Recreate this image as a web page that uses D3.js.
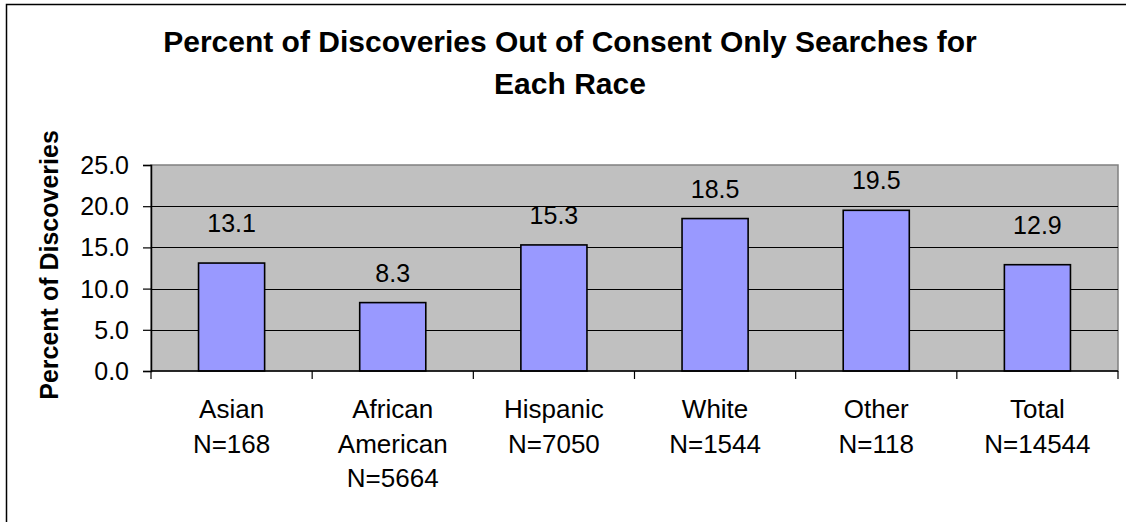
<!DOCTYPE html>
<html>
<head>
<meta charset="utf-8">
<script src="https://cdn.jsdelivr.net/npm/d3@7"></script>
<style>
  html, body { margin: 0; padding: 0; background: #fff; }
  svg { display: block; font-family: "Liberation Sans", Arial, sans-serif; }
</style>
</head>
<body>
<svg id="chart" width="1126" height="522"></svg>
<script>
const titleLines = ["Percent of Discoveries Out of Consent Only Searches for", "Each Race"];
const yAxisTitle = "Percent of Discoveries";
const categories = ["Asian", "African American", "Hispanic", "White", "Other", "Total"];
const categoryLines = [["Asian", "N=168"], ["African", "American", "N=5664"], ["Hispanic", "N=7050"], ["White", "N=1544"], ["Other", "N=118"], ["Total", "N=14544"]];
const values = [13.1, 8.3, 15.3, 18.5, 19.5, 12.9];
const yTicks = [0, 5, 10, 15, 20, 25];

const svg = d3.select("#chart");
const plot = { left: 151, right: 1118, top: 165, bottom: 371 };

// outer chart border (extends beyond the right/bottom of the picture)
svg.append("rect").attr("x", 6.5).attr("y", 4.5).attr("width", 1200).attr("height", 600)
  .attr("fill", "none").attr("stroke", "#000").attr("stroke-width", 1.5);

const x = d3.scaleBand().domain(categories).range([plot.left, plot.right]).padding(0);
const y = d3.scaleLinear().domain([0, 25]).range([plot.bottom, plot.top]);

// plot background
svg.append("rect").attr("x", plot.left).attr("y", plot.top)
  .attr("width", plot.right - plot.left).attr("height", plot.bottom - plot.top)
  .attr("fill", "#C0C0C0").attr("stroke", "#808080").attr("stroke-width", 1.5);

// gridlines
svg.append("g").selectAll("line").data(yTicks.filter(t => t > 0 && t < 25)).join("line")
  .attr("x1", plot.left).attr("x2", plot.right)
  .attr("y1", d => Math.round(y(d)) + 0.5).attr("y2", d => Math.round(y(d)) + 0.5)
  .attr("stroke", "#000").attr("stroke-width", 1.2);

// bars
const barFrac = 0.41;
svg.append("g").selectAll("rect").data(values).join("rect")
  .attr("x", (d, i) => x(categories[i]) + x.bandwidth() * (1 - barFrac) / 2)
  .attr("width", x.bandwidth() * barFrac)
  .attr("y", d => y(d))
  .attr("height", d => y(0) - y(d))
  .attr("fill", "#9999FF").attr("stroke", "#000").attr("stroke-width", 1.6);

// value labels (labels of bars sitting just under the 15 line are lifted clear of it)
svg.append("g").selectAll("text").data(values).join("text")
  .attr("x", (d, i) => x(categories[i]) + x.bandwidth() / 2)
  .attr("y", d => y(d) - ((d > 12 && d < 15) ? 31 : 21))
  .attr("text-anchor", "middle")
  .attr("font-size", 25).attr("fill", "#000")
  .text(d => d.toFixed(1));

// y axis
const yAxis = d3.axisLeft(y).tickValues(yTicks).tickSize(8).tickPadding(14).tickFormat(d3.format(".1f"));
const gy = svg.append("g").attr("transform", `translate(${plot.left},0)`).call(yAxis);
gy.select(".domain").attr("stroke", "#000").attr("stroke-width", 1.5);
gy.selectAll(".tick line").attr("stroke", "#000").attr("stroke-width", 1.2);
gy.selectAll(".tick text").attr("font-size", 25).attr("font-family", "Liberation Sans, Arial, sans-serif")
  .attr("fill", "#000").attr("dy", "0.34em");

// x axis baseline and boundary ticks
const gx = svg.append("g").attr("transform", `translate(0,${plot.bottom})`);
gx.append("line").attr("x1", plot.left).attr("x2", plot.right).attr("y1", 0).attr("y2", 0)
  .attr("stroke", "#000").attr("stroke-width", 1.5);
const bounds = categories.map(c => x(c)).concat([x.range()[1]]);
gx.selectAll("line.tk").data(bounds).join("line").attr("class", "tk")
  .attr("x1", d => d).attr("x2", d => d).attr("y1", 0).attr("y2", 8)
  .attr("stroke", "#000").attr("stroke-width", 1.2);

// category labels
const cl = svg.append("g").selectAll("text").data(categoryLines).join("text")
  .attr("text-anchor", "middle").attr("font-size", 26).attr("fill", "#000");
cl.each(function(lines, i) {
  d3.select(this).selectAll("tspan").data(lines).join("tspan")
    .attr("x", x(categories[i]) + x.bandwidth() / 2)
    .attr("y", (d, j) => 418 + j * 34.5)
    .text(d => d);
});

// title
svg.append("g").selectAll("text").data(titleLines).join("text")
  .attr("x", 570).attr("y", (d, i) => 52 + i * 42)
  .attr("text-anchor", "middle").attr("font-size", 30).attr("font-weight", "bold")
  .attr("fill", "#000").text(d => d);

// y axis title
svg.append("text")
  .attr("transform", "translate(58,265) rotate(-90)")
  .attr("text-anchor", "middle").attr("font-size", 25).attr("font-weight", "bold")
  .attr("fill", "#000").text(yAxisTitle);
</script>
</body>
</html>
